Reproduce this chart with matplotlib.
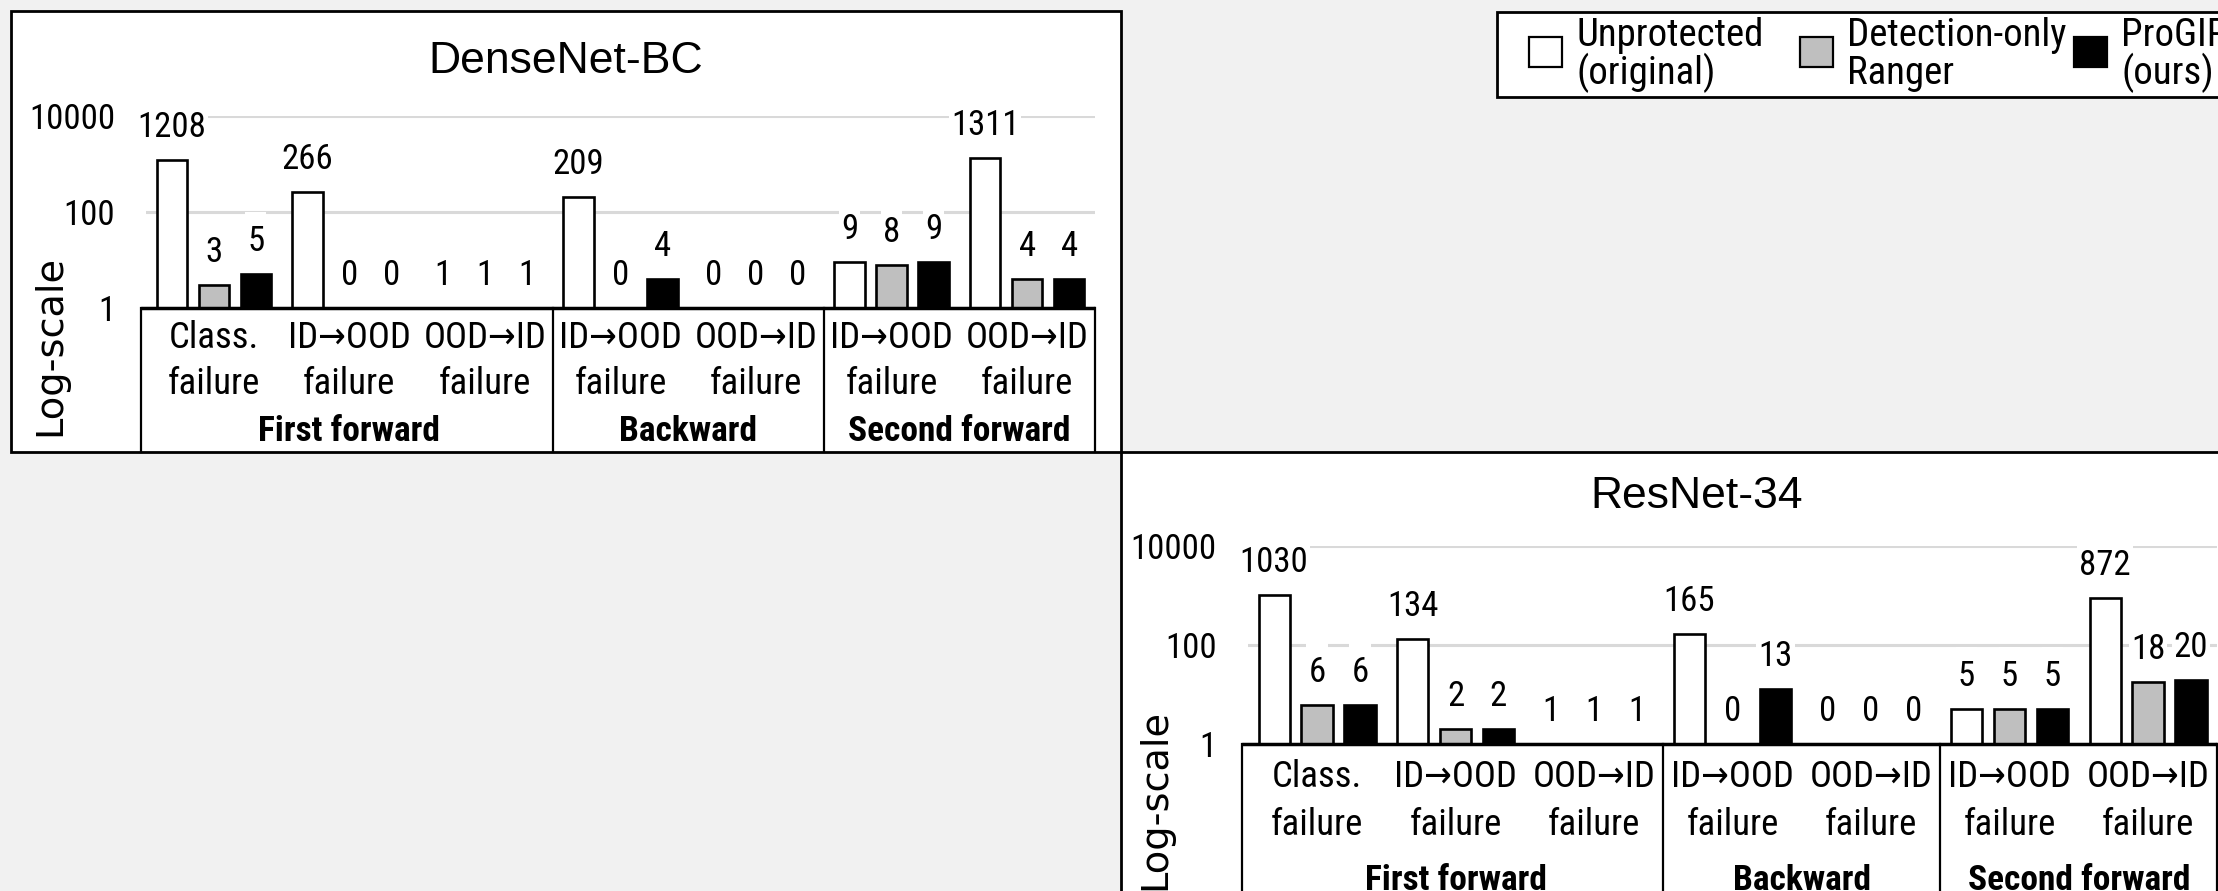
import numpy as np
import matplotlib
matplotlib.use("Agg")
import matplotlib.pyplot as plt
from matplotlib import font_manager
from matplotlib.patches import Rectangle
from matplotlib.path import Path
from matplotlib.ticker import NullLocator

# ---- data -------------------------------------------------------------
categories = ["Class.\nfailure", "ID→OOD\nfailure", "OOD→ID\nfailure",
              "ID→OOD\nfailure", "OOD→ID\nfailure",
              "ID→OOD\nfailure", "OOD→ID\nfailure"]
phases = ["First forward", "Backward", "Second forward"]
phase_sizes = [3, 2, 2]
series = ["Unprotected\n(original)", "Detection-only\nRanger", "ProGIP\n(ours)"]
series_colors = ["white", "#bfbfbf", "black"]
yticks = [1, 100, 10000]

densenet_unprotected = [1208, 266, 1, 209, 0, 9, 1311]
densenet_ranger = [3, 0, 1, 0, 0, 8, 4]
densenet_progip = [5, 0, 1, 4, 0, 9, 4]

resnet_unprotected = [1030, 134, 1, 165, 0, 5, 872]
resnet_ranger = [6, 2, 1, 0, 0, 5, 18]
resnet_progip = [6, 2, 1, 13, 0, 5, 20]

# ---- layout (pixels of the 2218x891 canvas) ---------------------------
W, H = 2218, 891
DPI = 100
PT = 72 / DPI  # points per pixel


def first_font(*names):
    installed = {f.name for f in font_manager.fontManager.ttflist}
    for name in names:
        if name in installed:
            return name
    return "DejaVu Sans"


NARROW = first_font("Liberation Sans Narrow", "Roboto Condensed",
                    "Open Sans Condensed", "DejaVu Sans")
PLAIN = first_font("Liberation Sans", "Arial", "DejaVu Sans")
narrow = dict(family=[NARROW, "DejaVu Sans"], fontstretch="condensed")


def fx(x):
    return x / W


def fy(y):
    return 1 - y / H


def label_box(x0, y0, width, height, mutation_size):
    # white patch behind value labels: tight at the sides, tall on top
    left, right = x0 - 2, x0 + width + 2
    bottom, top = y0 - 2, y0 + height + 13
    return Path([(left, bottom), (right, bottom), (right, top),
                 (left, top), (left, bottom)], closed=True)


def draw_panel(fig, title, values, box, area, title_at, ylabel_at,
               table_bottom, rows):
    bx0, by0, bx1, by1 = box
    fig.add_artist(Rectangle((fx(bx0), fy(by1)), fx(bx1) - fx(bx0),
                             fy(by0) - fy(by1), transform=fig.transFigure,
                             facecolor="white", edgecolor="black",
                             linewidth=2, zorder=-5))

    left, top, right, bottom = area
    ax = fig.add_axes([fx(left), fy(bottom), (right - left) / W,
                       (bottom - top) / H])
    ax.patch.set_visible(False)
    ax.set_yscale("log")
    ax.set_ylim(yticks[0], yticks[-1])
    ax.set_xlim(-0.5, len(categories) - 0.5)
    ax.set_yticks(yticks, labels=[str(t) for t in yticks], fontsize=25,
                  **narrow)
    ax.yaxis.set_minor_locator(NullLocator())
    ax.tick_params(axis="y", length=0, pad=31 * PT)
    ax.set_xticks([])
    for s in ax.spines.values():
        s.set_visible(False)
    ax.grid(axis="y", color="#d9d9d9", linewidth=2.2)
    ax.set_axisbelow(True)

    x = np.arange(len(categories))
    for k, (vals, color) in enumerate(zip(values, series_colors)):
        h = np.maximum(np.array(vals, dtype=float), 1)
        pos = x + (k - 1) * 0.31
        ax.bar(pos, h - 1, bottom=1, width=0.225, color=color,
               edgecolor="black", linewidth=1.9, zorder=2)
        for xi, vi, hi in zip(pos, vals, h):
            ax.annotate(f"{vi}", xy=(xi, hi), xytext=(0, 23 * PT),
                        textcoords="offset points", ha="center",
                        va="baseline", fontsize=25, zorder=3,
                        annotation_clip=False,
                        bbox=dict(boxstyle=label_box, facecolor="white",
                                  edgecolor="none"), **narrow)

    # category table under the axis
    trans = ax.get_xaxis_transform()
    edge_left = -0.54
    ax.plot([edge_left, len(categories) - 0.5], [0, 0], transform=trans,
            color="black", lw=2.5, clip_on=False, zorder=4,
            solid_capstyle="butt")
    bounds = np.cumsum([0] + phase_sizes) - 0.5
    bounds[0] = edge_left
    tb = (bottom - table_bottom) / (bottom - top)
    for b in bounds:
        ax.plot([b, b], [0, tb], transform=trans, color="black", lw=1.6,
                clip_on=False, zorder=4)

    for i, cat in enumerate(categories):
        for line, off in zip(cat.split("\n"), rows[:2]):
            ax.annotate(line, xy=(i, 0), xycoords=trans,
                        xytext=(0, -off * PT), textcoords="offset points",
                        ha="center", va="baseline", fontsize=26.5,
                        annotation_clip=False, **narrow)
    starts = np.cumsum([0] + phase_sizes)
    for name, s, n in zip(phases, starts, phase_sizes):
        ax.annotate(name, xy=(s + (n - 1) / 2, 0), xycoords=trans,
                    xytext=(0, -rows[2] * PT), textcoords="offset points",
                    ha="center", va="baseline", fontsize=25.5,
                    fontweight="bold", annotation_clip=False, **narrow)

    fig.text(fx(title_at[0]), fy(title_at[1]), title, ha="center",
             va="baseline", fontsize=32, family=PLAIN)
    fig.text(fx(ylabel_at[0]), fy(ylabel_at[1]), "Log-scale", rotation=90,
             ha="center", va="center", fontsize=27.5, family="DejaVu Sans")
    return ax


def draw_legend(fig):
    fig.add_artist(Rectangle((fx(1496.5), fy(97.3)), fx(2300) - fx(1496.5),
                             fy(11.7) - fy(97.3), transform=fig.transFigure,
                             facecolor="white", edgecolor="black",
                             linewidth=2, zorder=-5))
    handle_x = [1529.4, 1800, 2074]
    for name, color, hx in zip(series, series_colors, handle_x):
        fig.add_artist(Rectangle((fx(hx), fy(66.7)), 33 / W, 30 / H,
                                 transform=fig.transFigure, facecolor=color,
                                 edgecolor="black", linewidth=1.6))
        for line, base in zip(name.split("\n"), [46, 84]):
            fig.text(fx(hx + 47.5), fy(base), line, ha="left",
                     va="baseline", fontsize=28, **narrow)


fig = plt.figure(figsize=(W / DPI, H / DPI), dpi=DPI, facecolor="#f1f1f1")

draw_panel(fig, "DenseNet-BC",
           [densenet_unprotected, densenet_ranger, densenet_progip],
           box=(11, 10.7, 1120.7, 451.7), area=(146, 116, 1095, 308),
           title_at=(565.5, 73), ylabel_at=(50, 346), table_bottom=451.7,
           rows=(40.3, 86, 133))
draw_panel(fig, "ResNet-34",
           [resnet_unprotected, resnet_ranger, resnet_progip],
           box=(1120.7, 452.3, 2300, 960), area=(1247.8, 546, 2217.3, 744),
           title_at=(1697, 508.3), ylabel_at=(1155, 800), table_bottom=960,
           rows=(42.7, 91, 146))
draw_legend(fig)

fig.savefig("out.png", dpi=DPI, facecolor=fig.get_facecolor())
